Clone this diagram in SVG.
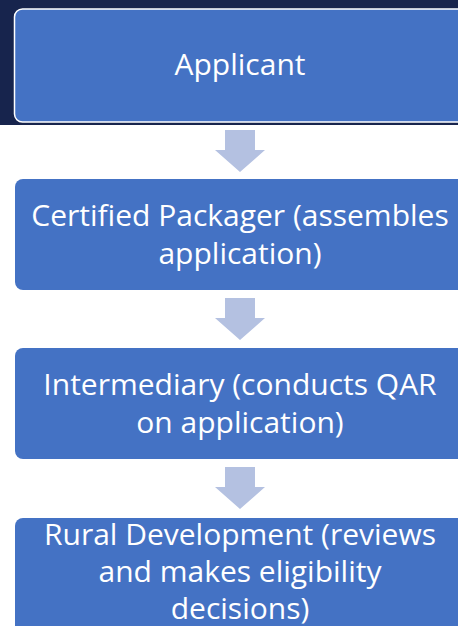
<svg xmlns="http://www.w3.org/2000/svg" width="458" height="626" viewBox="0 0 458 626">
<defs>
<style>
.box{fill:#4472C4;}
.lbl{font-family:"Open Sans","Noto Sans","Liberation Sans",sans-serif;font-size:30px;fill:#FFFFFF;text-anchor:middle;}
.arr{fill:#B4C1E1;}
</style>
</defs>
<rect x="0" y="0" width="458" height="125" fill="#17244D"/>
<g id="connectors">
<polygon class="arr" points="225,130 255,130 255,150 265,150 240,172 215,150 225,150"/>
<polygon class="arr" points="225,298 255,298 255,318 265,318 240,340 215,318 225,318"/>
<polygon class="arr" points="225,467 255,467 255,487 265,487 240,509 215,487 225,487"/>
</g>
<g id="applicant">
<rect class="box" x="14.5" y="9" width="460" height="113" rx="8" stroke="#FFFFFF" stroke-width="1.5"/>
<text class="lbl" x="240" y="75">Applicant</text>
</g>
<g id="packager">
<rect class="box" x="15" y="179" width="460" height="111" rx="8"/>
<text class="lbl" x="240" y="226">Certified Packager (assembles</text>
<text class="lbl" x="240" y="263.5">application)</text>
</g>
<g id="intermediary">
<rect class="box" x="15" y="348" width="460" height="111" rx="8"/>
<text class="lbl" x="240" y="395">Intermediary (conducts QAR</text>
<text class="lbl" x="240" y="432.5">on application)</text>
</g>
<g id="rural">
<rect class="box" x="15" y="518" width="460" height="130" rx="8"/>
<text class="lbl" x="240" y="545">Rural Development (reviews</text>
<text class="lbl" x="240" y="582">and makes eligibility</text>
<text class="lbl" x="240" y="619">decisions)</text>
</g>
</svg>
